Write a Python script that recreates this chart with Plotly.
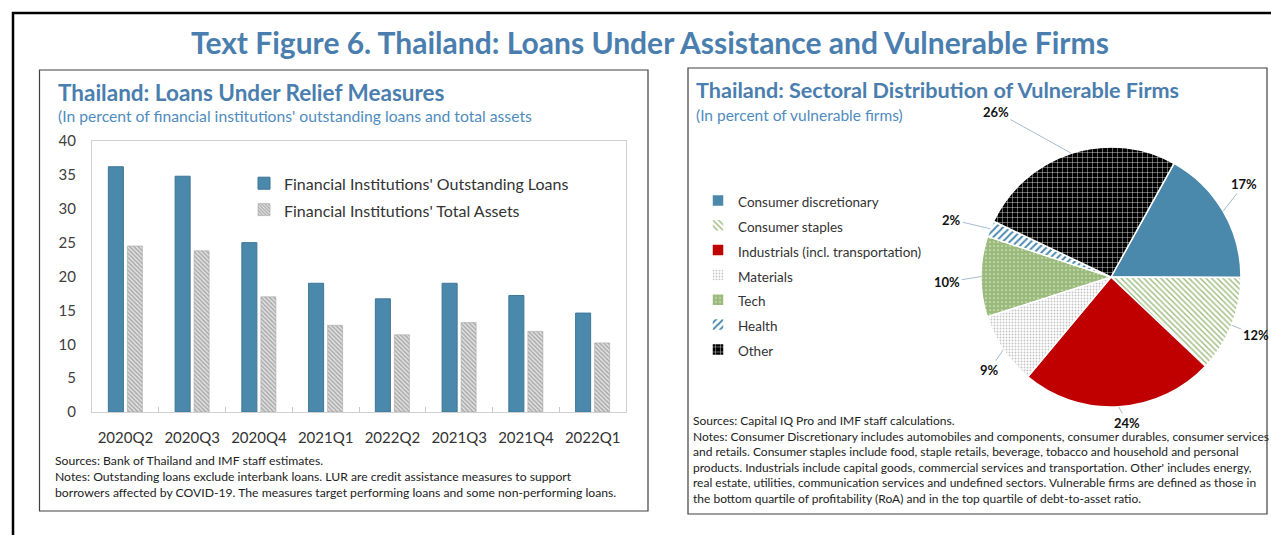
import math
import plotly.graph_objects as go

W, H = 1271, 535

# ---- Left panel data: loans under relief measures (percent) ----
quarters = ["2020Q2", "2020Q3", "2020Q4", "2021Q1", "2022Q2", "2021Q3", "2021Q4", "2022Q1"]
loans_share = [36.2, 34.8, 25.0, 19.0, 16.7, 19.0, 17.2, 14.6]
assets_share = [24.5, 23.8, 17.0, 12.8, 11.4, 13.2, 11.9, 10.2]
bar_series_names = ["Financial Institutions' Outstanding Loans",
                    "Financial Institutions' Total Assets"]

# ---- Right panel data: sectoral distribution of vulnerable firms (percent) ----
sectors = ["Consumer discretionary", "Consumer staples", "Industrials (incl. transportation)",
           "Materials", "Tech", "Health", "Other"]
sector_pct = [17, 12, 24, 9, 10, 2, 26]

# ---- styling ----
FONT = "Lato"
TITLE_BLUE = "#4A7EAE"
SUB_BLUE = "#4F8CC0"
BAR_BLUE = "#4A89AC"


def px(x):
    return x / W


def py(y):
    return 1 - y / H


def small(s, size):
    # legend rows keep a taller line box while the visible text stays small
    return f'<span style="font-size:{size}px">{s}</span>'


fig = go.Figure()

# Bar chart
fig.add_trace(go.Bar(
    x=quarters, y=loans_share, name=small(bar_series_names[0], 16),
    marker=dict(color=BAR_BLUE, line=dict(color="#3E7596", width=1)),
    legend="legend", hovertemplate="%{x}: %{y}<extra></extra>",
))
fig.add_trace(go.Bar(
    x=quarters, y=assets_share, name=small(bar_series_names[1], 16),
    marker=dict(color="#E4E4E4", line=dict(color="#A8A8A8", width=0.6),
                pattern=dict(shape="\\", fgcolor="#6E6E6E", size=3, solidity=0.5,
                             fillmode="overlay")),
    legend="legend", hovertemplate="%{x}: %{y}<extra></extra>",
))

# Pie chart geometry (pixels)
pie_cx, pie_cy, pie_r = 1111, 277, 130
pie_rotation = 29

slice_colors = [BAR_BLUE, "#FFFFFF", "#C00000", "#FFFFFF", "#9BBB7C", "#FFFFFF", "#000000"]
pat_shapes = ["", "\\", "", ".", ".", "/", "+"]
pat_fg = [BAR_BLUE, "#9BBB7C", "#C00000", "#C4C4C4", "#DCE8D0", "#4A89AC", "#FFFFFF"]
pat_bg = [BAR_BLUE, "#FFFFFF", "#C00000", "#FFFFFF", "#9BBB7C", "#FFFFFF", "#000000"]
pat_size = [6, 4, 6, 3, 4, 5, 5]
pat_solid = [0.3, 0.35, 0.3, 0.3, 0.15, 0.4, 0.15]

fig.add_trace(go.Pie(
    labels=[small(s, 13.5) for s in sectors], values=sector_pct, sort=False,
    direction="clockwise", rotation=pie_rotation, textinfo="none",
    hovertemplate="%{label}: %{value}%<extra></extra>",
    marker=dict(colors=slice_colors, line=dict(color="#FFFFFF", width=1.5),
                pattern=dict(shape=pat_shapes, fgcolor=pat_fg, bgcolor=pat_bg,
                             size=pat_size, solidity=pat_solid, fillmode="replace")),
    domain=dict(x=[px(pie_cx - pie_r), px(pie_cx + pie_r)],
                y=[py(pie_cy + pie_r), py(pie_cy - pie_r)]),
    legend="legend2",
))

annotations = []

# Pie percentage labels with leader lines
label_dist = [1.25, 1.2, 1.13, 1.18, 1.26, 1.3, 1.55]
label_turn = [-4.5, 0, -3, -3.5, -2, -2, -17]
total = sum(sector_pct)
cum = 0
for i, v in enumerate(sector_pct):
    mid = math.radians(pie_rotation + (cum + v / 2) / total * 360)
    cum += v
    hx = pie_cx + pie_r * math.sin(mid)
    hy = pie_cy - pie_r * math.cos(mid)
    lang = mid + math.radians(label_turn[i])
    lx = pie_cx + pie_r * label_dist[i] * math.sin(lang)
    ly = pie_cy - pie_r * label_dist[i] * math.cos(lang)
    annotations.append(dict(
        x=px(hx), y=py(hy), xref="paper", yref="paper",
        ax=lx - hx, ay=ly - hy, axref="pixel", ayref="pixel",
        text=f"<b>{v}%</b>", showarrow=True, arrowhead=0, arrowwidth=1,
        arrowcolor="#A9BCD0", font=dict(family=FONT, size=13, color="#111111"),
    ))


def text(x, y, s, size, color="#222222", bold=False, xanchor="left"):
    annotations.append(dict(
        x=px(x), y=py(y), xref="paper", yref="paper", xanchor=xanchor, yanchor="middle",
        text=f"<b>{s}</b>" if bold else s, showarrow=False, align="left",
        font=dict(family=FONT, size=size, color=color),
    ))


text(650, 42, "Text Figure 6. Thailand: Loans Under Assistance and Vulnerable Firms", 30,
     TITLE_BLUE, bold=True, xanchor="center")
text(56, 92, "Thailand: Loans Under Relief Measures", 22.5, TITLE_BLUE, bold=True)
text(56, 116, "(In percent of financial institutions' outstanding loans and total assets", 15.7,
     SUB_BLUE)
text(694, 90, "Thailand: Sectoral Distribution of Vulnerable Firms", 21.6, TITLE_BLUE, bold=True)
text(694, 115, "(In percent of vulnerable firms)", 15.5, SUB_BLUE)

annotations.append(dict(
    x=px(53), y=py(451), xref="paper", yref="paper", xanchor="left", yanchor="top",
    showarrow=False, align="left",
    text=("Sources: Bank of Thailand and IMF staff estimates.<br>"
          "Notes: Outstanding loans exclude interbank loans. LUR are credit assistance measures to support<br>"
          "borrowers affected by COVID-19. The measures target performing loans and some non-performing loans."),
    font=dict(family=FONT, size=12.2, color="#222222"),
))
annotations.append(dict(
    x=px(691), y=py(411), xref="paper", yref="paper", xanchor="left", yanchor="top",
    showarrow=False, align="left",
    text=("Sources: Capital IQ Pro and IMF staff calculations.<br>"
          "Notes: Consumer Discretionary includes automobiles and components, consumer durables, consumer services<br>"
          "and retails. Consumer staples include food, staple retails, beverage, tobacco and household and personal<br>"
          "products. Industrials include capital goods, commercial services and transportation. Other' includes energy,<br>"
          "real estate, utilities, communication services and undefined sectors. Vulnerable firms are defined as those in<br>"
          "the bottom quartile of profitability (RoA) and in the top quartile of debt-to-asset ratio."),
    font=dict(family=FONT, size=12, color="#222222"),
))

shapes = [
    # outer frame
    dict(type="rect", xref="paper", yref="paper", x0=px(13), x1=px(1290), y0=py(13), y1=py(560),
         line=dict(color="#000000", width=2.5)),
    # left panel frame
    dict(type="rect", xref="paper", yref="paper", x0=px(39.5), x1=px(648), y0=py(70), y1=py(511),
         line=dict(color="#404040", width=1.2)),
    # right panel frame
    dict(type="rect", xref="paper", yref="paper", x0=px(688), x1=px(1267), y0=py(68), y1=py(514),
         line=dict(color="#404040", width=1.2)),
]

fig.update_layout(
    width=W, height=H, margin=dict(l=0, r=0, t=0, b=0, autoexpand=False),
    paper_bgcolor="#FFFFFF", plot_bgcolor="#FFFFFF",
    font=dict(family=FONT, color="#333333"),
    barmode="group", bargap=0.43, bargroupgap=0.21,
    xaxis=dict(domain=[px(92), px(626)], showline=True, linecolor="#D0D0D0", linewidth=1,
               mirror=True, ticks="inside", tickson="boundaries", ticklen=5,
               tickcolor="#C8C8C8", tickfont=dict(size=15, color="#333333"),
               showgrid=False, zeroline=False, ticklabelstandoff=12),
    yaxis=dict(domain=[py(412), py(141)], range=[0, 40], dtick=5, showline=True,
               linecolor="#D0D0D0", linewidth=1, mirror=True, ticks="",
               tickfont=dict(size=15, color="#404040"), showgrid=False, zeroline=False,
               ticklabelstandoff=12),
    legend=dict(x=px(244), y=py(165), xanchor="left", yanchor="top",
                bgcolor="rgba(0,0,0,0)", font=dict(family=FONT, size=18, color="#333333")),
    legend2=dict(x=px(698), y=py(183), xanchor="left", yanchor="top",
                 bgcolor="rgba(0,0,0,0)", font=dict(family=FONT, size=16.8, color="#333333")),
    annotations=annotations, shapes=shapes,
)

fig.write_html("out.html")
